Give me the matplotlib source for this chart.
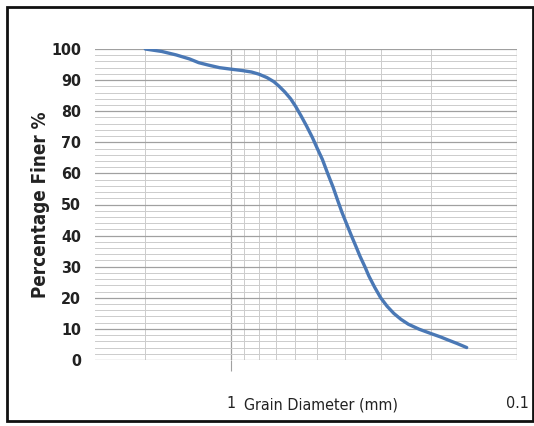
import matplotlib
matplotlib.use("Agg")
from matplotlib import pyplot as plt
from matplotlib.patches import Rectangle
import numpy as np

# grain size distribution
diameter = [2.0, 1.75, 1.56, 1.40, 1.30, 1.20, 1.10, 1.00, 0.92, 0.85, 0.80, 0.75,
            0.71, 0.68, 0.65, 0.62, 0.595, 0.57, 0.545, 0.52, 0.50, 0.48, 0.46,
            0.44, 0.425, 0.41, 0.395, 0.38, 0.365, 0.355, 0.34, 0.33, 0.315,
            0.30, 0.285, 0.27, 0.255, 0.24, 0.22, 0.20, 0.185, 0.175, 0.162, 0.15]
finer = [100, 99.2, 98.1, 96.8, 95.6, 94.8, 94.0, 93.5, 93.1, 92.6, 91.9, 90.8,
         89.5, 88.0, 86.2, 84.0, 81.5, 78.5, 75.2, 71.5, 68.0, 64.5, 60.0,
         55.5, 51.5, 47.5, 43.8, 40.0, 36.2, 33.5, 29.8, 27.0, 23.4,
         20.0, 17.3, 15.0, 13.1, 11.5, 9.9, 8.5, 7.4, 6.5, 5.3, 4.0]

y_ticks = list(range(0, 101, 10))
x_ticks = [1, 0.1]
x_tick_labels = ["1", "0.1"]

plt.rcParams['font.family'] = ['DejaVu Sans']
plt.rcParams['font.stretch'] = 'condensed'

fig = plt.figure(figsize=(5.34, 4.26), dpi=100)
ax = fig.add_axes([95/534, 66/426, 422/534, 311/426])

ax.plot(diameter, finer, color='#4a78b5', lw=2.4, solid_capstyle='round',
        solid_joinstyle='round')

ax.set_xscale('log')
ax.set_xlim(3.0, 0.1)
ax.set_ylim(0, 100)

ax.set_yticks(y_ticks)
ax.set_yticks(np.arange(0, 101, 2), minor=True)
ax.set_xticks(x_ticks)
ax.set_xticklabels(x_tick_labels)
ax.set_xticks([2, 0.9, 0.8, 0.7, 0.6, 0.5, 0.4, 0.3, 0.2], minor=True)
ax.xaxis.set_minor_formatter(plt.NullFormatter())

ax.grid(which='major', color='#a0a0a0', lw=0.9)
ax.grid(which='minor', color='#cccccc', lw=0.7)
ax.set_axisbelow(True)

ax.tick_params(axis='y', which='both', length=0, labelsize=11.5, pad=10)
ax.tick_params(axis='x', which='major', length=8, color='#a0a0a0', labelsize=11.5, pad=18)
ax.tick_params(axis='x', which='minor', length=0)
ax.xaxis.get_major_ticks()[1].tick1line.set_visible(False)
for lab in ax.get_yticklabels():
    lab.set_fontweight('bold')
    lab.set_color('#222222')
for lab in ax.get_xticklabels():
    lab.set_color('#222222')

for s in ax.spines.values():
    s.set_visible(False)

ax.set_ylabel('Percentage Finer %', fontsize=13.5, fontweight='bold', color='#222222', labelpad=1)
fig.text(321/534, 1 - 405/426, 'Grain Diameter (mm)', fontsize=11.5, color='#222222',
         ha='center', va='center')

fig.patches.append(Rectangle((7/534, 5/426), 526/534, 414/426, transform=fig.transFigure,
                             fill=False, edgecolor='#111111', lw=2))

plt.savefig('out.png', dpi=100)
